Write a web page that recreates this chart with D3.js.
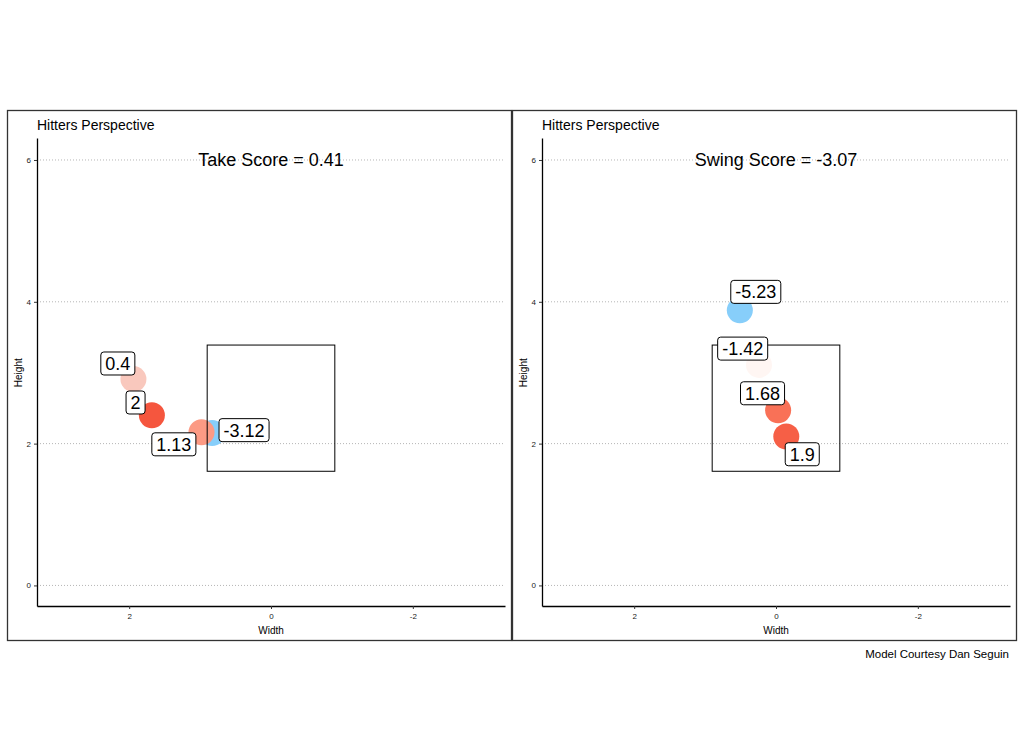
<!DOCTYPE html>
<html lang="en">
  <head>
    <meta charset="utf-8" />
    <title>Take / Swing score</title>
    <script type="text/javascript" src="https://cdn.jsdelivr.net/npm/d3@7"></script>
    <style type="text/css">
      body { margin: 0; background: #fff; }
      text { font-family: "Liberation Sans", Arial, sans-serif; }
    </style>
  </head>

  <body>
    <script type="text/javascript">
      // Take panel
      const takeValues = [-3.12, 0.4, 2, 1.13];
      const takeX = [0.83, 1.94, 1.68, 0.98];
      const takeZ = [2.15, 2.91, 2.4, 2.16];
      const takeLabelX = [0.38, 2.16, 1.91, 1.37];
      const takeLabelZ = [2.19, 3.13, 2.58, 1.99];
      const takeScore = 0.41;

      // Swing panel
      const swingValues = [-5.23, -1.42, 1.68, 1.9];
      const swingX = [0.51, 0.24, -0.03, -0.145];
      const swingZ = [3.88, 3.11, 2.47, 2.1];
      const swingLabelX = [0.285, 0.47, 0.19, -0.37];
      const swingLabelZ = [4.14, 3.34, 2.71, 1.85];
      const swingScore = -3.07;

      // strike zone and axes
      const zoneX = [0.9, -0.9];
      const zoneZ = [1.61, 3.39];
      const xTicks = [2, 0, -2];
      const yTicks = [0, 2, 4, 6];

      const panels = [
        { title: "Take Score = " + takeScore, v: takeValues, x: takeX, z: takeZ, lx: takeLabelX, lz: takeLabelZ },
        { title: "Swing Score = " + swingScore, v: swingValues, x: swingX, z: swingZ, lx: swingLabelX, lz: swingLabelZ }
      ];

      const svg = d3
        .select("body")
        .append("svg")
        .attr("width", 1024)
        .attr("height", 745);

      // diverging colour, white sits below zero
      const color = d3
        .scaleLinear()
        .domain([-3, -1.8, 0.5, 2.05])
        .range(["#87cefa", "#ffffff", "#f9c6ba", "#f4513a"])
        .interpolate(d3.interpolateLab)
        .clamp(true);

      const x = d3.scaleLinear().domain([3.3, -3.3]).range([37, 505]);
      const y = d3.scaleLinear().domain([-0.29, 6.31]).range([606, 138]);

      panels.forEach(function (p, k) {
        const g = svg.append("g").attr("transform", "translate(" + k * 505 + ",0)");

        // border round the panel
        g.append("rect")
          .attr("x", 7.5)
          .attr("y", 110.5)
          .attr("width", 504)
          .attr("height", 530)
          .attr("fill", "none")
          .attr("stroke", "#333")
          .attr("stroke-width", 1.3);

        // dotted grid
        g.selectAll(".grid")
          .data(yTicks)
          .enter()
          .append("line")
          .attr("x1", 37)
          .attr("x2", 505)
          .attr("y1", function (d) { return y(d); })
          .attr("y2", function (d) { return y(d); })
          .attr("stroke", "#b5b5b5")
          .attr("stroke-width", 1)
          .attr("stroke-dasharray", "1 2");

        // axes
        const xAxis = g.append("g")
          .attr("transform", "translate(0,606)")
          .call(d3.axisBottom(x).tickValues(xTicks).tickSize(3).tickSizeOuter(0).tickFormat(String));
        const yAxis = g.append("g")
          .attr("transform", "translate(37,0)")
          .call(d3.axisLeft(y).tickValues(yTicks).tickSize(3).tickSizeOuter(0).tickFormat(String));
        [xAxis, yAxis].forEach(function (a) {
          a.select(".domain").attr("stroke", "#000").attr("stroke-width", 1.3);
          a.selectAll(".tick line").attr("stroke", "#333");
          a.selectAll(".tick text")
            .attr("font-family", "Liberation Sans, Arial, sans-serif")
            .attr("font-size", 8)
            .attr("fill", "#222");
        });
        xAxis.selectAll(".tick text").attr("dy", "0.9em");

        g.append("text")
          .attr("x", x(0))
          .attr("y", 634)
          .attr("text-anchor", "middle")
          .attr("font-size", 10)
          .text("Width");

        g.append("text")
          .attr("transform", "translate(22," + y(3) + ") rotate(-90)")
          .attr("text-anchor", "middle")
          .attr("font-size", 10)
          .text("Height");

        g.append("text")
          .attr("x", 37)
          .attr("y", 130)
          .attr("font-size", 14)
          .text("Hitters Perspective");

        g.append("text")
          .attr("x", x(0))
          .attr("y", y(6))
          .attr("dy", "0.36em")
          .attr("text-anchor", "middle")
          .attr("font-size", 18)
          .text(p.title);

        // pitches
        g.selectAll(".pitch")
          .data(p.v)
          .enter()
          .append("circle")
          .attr("cx", function (d, i) { return x(p.x[i]); })
          .attr("cy", function (d, i) { return y(p.z[i]); })
          .attr("r", 13)
          .attr("fill", function (d) { return color(d); });

        // strike zone
        g.append("rect")
          .attr("x", x(zoneX[0]))
          .attr("y", y(zoneZ[1]))
          .attr("width", x(zoneX[1]) - x(zoneX[0]))
          .attr("height", y(zoneZ[0]) - y(zoneZ[1]))
          .attr("fill", "none")
          .attr("stroke", "#000")
          .attr("stroke-width", 1);

        // labels
        p.v.forEach(function (d, i) {
          const lg = g.append("g")
            .attr("transform", "translate(" + x(p.lx[i]) + "," + y(p.lz[i]) + ")");
          const rect = lg.append("rect");
          const t = lg.append("text")
            .attr("text-anchor", "middle")
            .attr("dy", "0.36em")
            .attr("font-size", 18)
            .text(d);
          const w = t.node().getComputedTextLength() + 9;
          rect.attr("x", -w / 2)
            .attr("y", -11.5)
            .attr("width", w)
            .attr("height", 23)
            .attr("rx", 3)
            .attr("fill", "#fff")
            .attr("stroke", "#000")
            .attr("stroke-width", 1);
        });
      });

      svg.append("text")
        .attr("x", 1009)
        .attr("y", 658)
        .attr("text-anchor", "end")
        .attr("font-size", 11.5)
        .text("Model Courtesy Dan Seguin");
    </script>
  </body>
</html>
